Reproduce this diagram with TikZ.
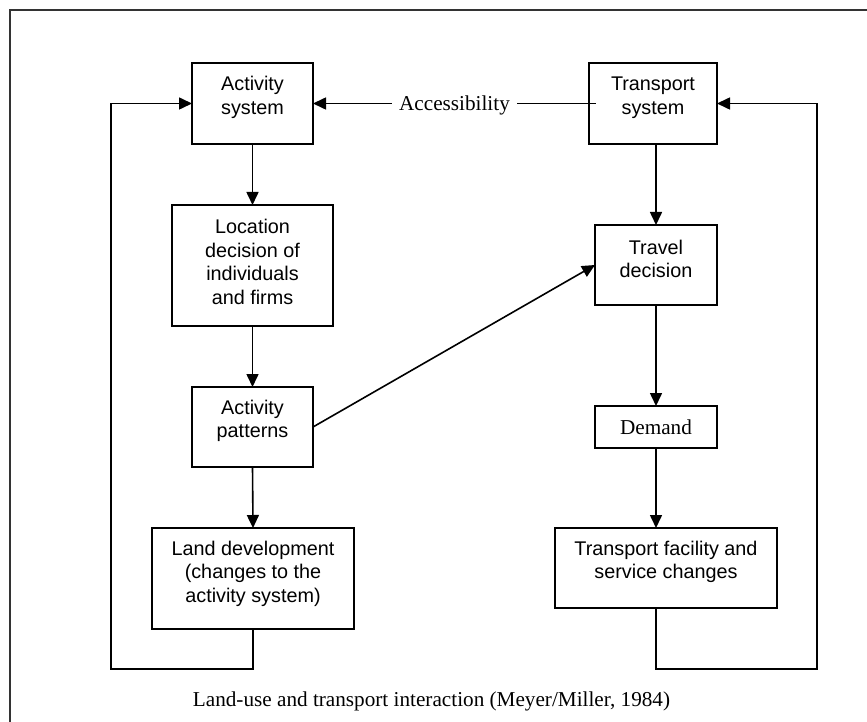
\documentclass[tikz,border=0pt]{standalone}
\usepackage{fontspec}
\setmainfont{Liberation Serif}
\setsansfont{Liberation Sans}
\usetikzlibrary{arrows.meta,calc}
\tikzset{
  box/.style={draw, rectangle, line width=1.6pt, inner sep=0pt, outer sep=0pt},
  btext/.style={font=\sffamily\fontsize{19.8}{23.5}\selectfont, align=center, inner sep=0pt},
  stext/.style={font=\rmfamily\fontsize{21.2}{24}\selectfont, inner sep=0pt},
  conn/.style={line width=1.6pt},
  arr/.style={conn, -{Triangle[length=13pt,width=12pt]}},
}
\begin{document}
\begin{tikzpicture}[x=1pt,y=-1pt]
\useasboundingbox (0,0) rectangle (867,722);
\clip (0,0) rectangle (867,722);
% frame
\draw[line width=1.8pt, black!80] (880,10) -- (10,10) -- (10,740);
% boxes
\node[box, minimum width=121pt, minimum height=81pt] (AS) at (252.5,103.5) {};
\node[box, minimum width=128pt, minimum height=81pt] (TS) at (653,103.5) {};
\node[box, minimum width=161pt, minimum height=121pt] (LD) at (252.5,265.5) {};
\node[box, minimum width=121pt, minimum height=80pt] (AP) at (252.5,427) {};
\node[box, minimum width=202pt, minimum height=101pt] (LDev) at (253,578.5) {};
\node[box, minimum width=122pt, minimum height=80pt] (TD) at (656,265) {};
\node[box, minimum width=122pt, minimum height=42pt] (Dem) at (656,427) {};
\node[box, minimum width=222pt, minimum height=80pt] (TF) at (666,568) {};
% texts
\node[btext] (ASt) at (252.5,97.5) {Activity\\system};
\node[btext] (TSt) at (653,97.5) {Transport\\system};
\node[btext] (LDt) at (252.5,262) {Location\\decision of\\individuals\\and firms};
\node[btext] (APt) at (252.5,421) {Activity\\patterns};
\node[btext] (LDevt) at (253,573.5) {Land development\\(changes to the\\activity system)};
\node[btext] (TDt) at (656,259) {Travel\\decision};
\node[stext] (Demt) at (656,427.5) {Demand};
\node[btext] (TFt) at (666,562) {Transport facility and\\service changes};
\node[stext, inner xsep=7pt] (acc) at (454.5,105) {Accessibility};
\node[stext] (cap) at (431.5,701.5) {Land-use and transport interaction (Meyer/Miller, 1984)};
% feedback corners
\coordinate (lb) at (111,669);
\coordinate (rb) at (817,669);
% connectors
\draw[arr] (AS.south) -- (LD.north);
\draw[arr] (LD.south) -- (AP.north);
\draw[arr] (AP.south) -- (LDev.north);
\draw[arr] (AP.east) -- (TD.west);
\draw[arr] (TS.south -| TD.north) -- (TD.north);
\draw[arr] (TD.south) -- (Dem.north);
\draw[arr] (Dem.south) -- (TF.north -| Dem.south);
\draw[arr] (LDev.south) |- (lb) |- (AS.west);
\draw[arr] (TF.south -| TD.south) |- (rb) |- (TS.east);
\draw[arr] (acc.west |- AS.east) -- (AS.east);
\draw[conn] (acc.east |- TS.west) -- ($(TS.west)+(7,0)$);
\end{tikzpicture}
\end{document}
